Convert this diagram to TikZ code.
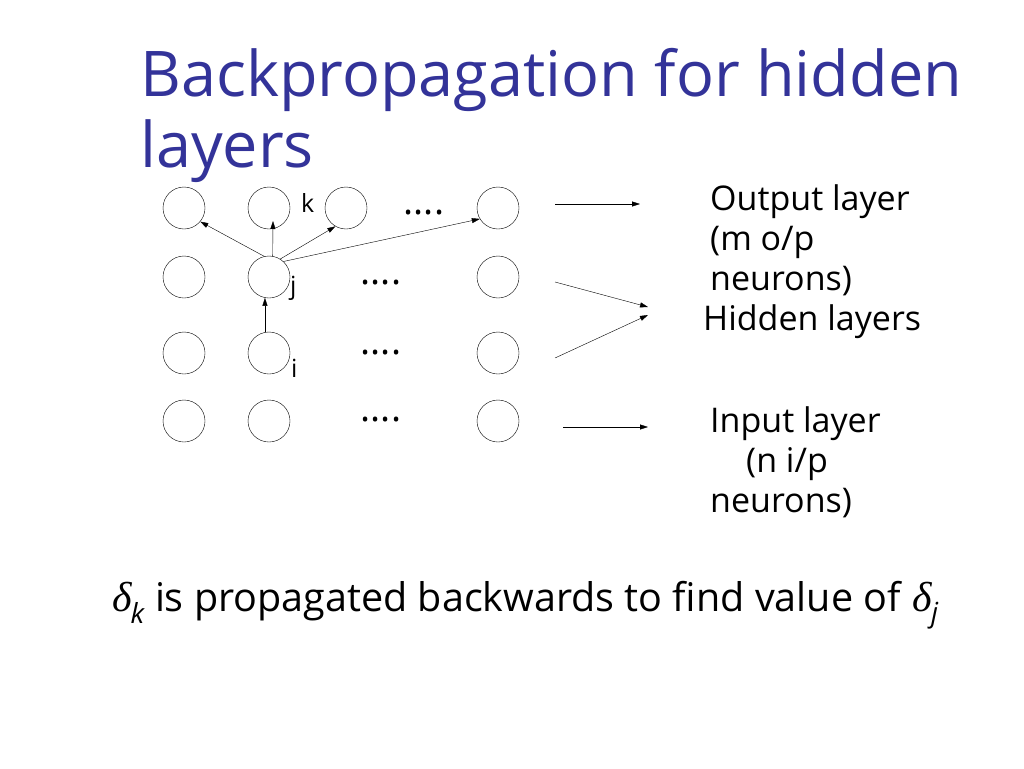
\documentclass[tikz,border=0pt]{standalone}
\usepackage{fontspec}
\setmainfont{Open Sans}
\newfontfamily\deltafont{Liberation Serif}
\usetikzlibrary{arrows.meta}
\definecolor{titleblue}{RGB}{51,51,153}
\newcommand{\dlt}[1]{{\deltafont\itshape\fontsize{42}{40}\selectfont δ}\kern-1pt\textsubscript{\itshape #1}}

\begin{document}
\begin{tikzpicture}[>={Triangle[width=5pt,length=8pt]}, neuron/.style={circle, draw, thin, minimum size=42pt, inner sep=0pt}, label/.style={anchor=base west, inner sep=0pt, font=\fontsize{34}{40}\selectfont, align=left}, dots/.style={anchor=base, inner sep=0pt, font=\fontsize{38}{40}\selectfont}]
  \useasboundingbox (0pt, 0pt) rectangle (1024pt, -768pt);
  \draw (140pt, -167pt)node[label, text=titleblue, font=\fontsize{63}{71}\selectfont](title){Backpropagation for hidden\\layers};

  \draw (184pt, -208pt)node[neuron](11){};
  \draw (269pt, -208pt)node[neuron](12){};
  \draw (346pt, -208pt)node[neuron](13){};
  \draw (498pt, -208pt)node[neuron](14){};
  \draw (184pt, -277pt)node[neuron](21){};
  \draw (269pt, -277pt)node[neuron](22){};
  \draw (498pt, -277pt)node[neuron](24){};
  \draw (184pt, -353pt)node[neuron](31){};
  \draw (269pt, -353pt)node[neuron](32){};
  \draw (498pt, -353pt)node[neuron](34){};
  \draw (184pt, -421pt)node[neuron](41){};
  \draw (269pt, -421pt)node[neuron](42){};
  \draw (498pt, -421pt)node[neuron](44){};

  \draw (424pt, -214pt)node[dots](d1){....};
  \draw (381pt, -284pt)node[dots](d2){....};
  \draw (381pt, -354pt)node[dots](d3){....};
  \draw (381pt, -421pt)node[dots](d4){....};

  \draw (301pt, -212pt)node[label, font=\fontsize{25}{26}\selectfont](k){k};
  \draw (290pt, -294pt)node[label, font=\fontsize{25}{26}\selectfont](j){j};
  \draw (291pt, -377pt)node[label, font=\fontsize{25}{26}\selectfont](i){i};

  \path[->] (22.103) edge (11.-40);
  \path[->] (22.80) edge ([xshift=4pt, yshift=-13pt]12.center);
  \path[->] (22.58) edge (13.-120);
  \path[->] (22.47) edge (14.-149);
  \path[->] (32.101) edge (22.-101);

  \draw (710pt, -290pt)node[label](out){Output layer\\(m o/p\\neurons)};
  \draw (703pt, -330pt)node[label](hid){Hidden layers};
  \draw (710pt, -512pt)node[label](in){Input layer\\\hspace*{36pt}(n i/p\\neurons)};

  \coordinate (a0) at (555pt, -204pt);
  \coordinate (a1) at (640pt, -204pt);
  \coordinate (b0) at (555pt, -282pt);
  \coordinate (b1) at (648pt, -307pt);
  \coordinate (c0) at (555pt, -358pt);
  \coordinate (c1) at (648pt, -315pt);
  \coordinate (e0) at (563pt, -427pt);
  \coordinate (e1) at (648pt, -427pt);
  \path[->] (a0) edge (a1);
  \path[->] (b0) edge (b1);
  \path[->] (c0) edge (c1);
  \path[->] (e0) edge (e1);

  \draw (112pt, -611pt)node[label, font=\fontsize{39.5}{40}\selectfont](note){\dlt{k} is propagated backwards to find value of\hspace{12pt}\dlt{j}};
\end{tikzpicture}
\end{document}
